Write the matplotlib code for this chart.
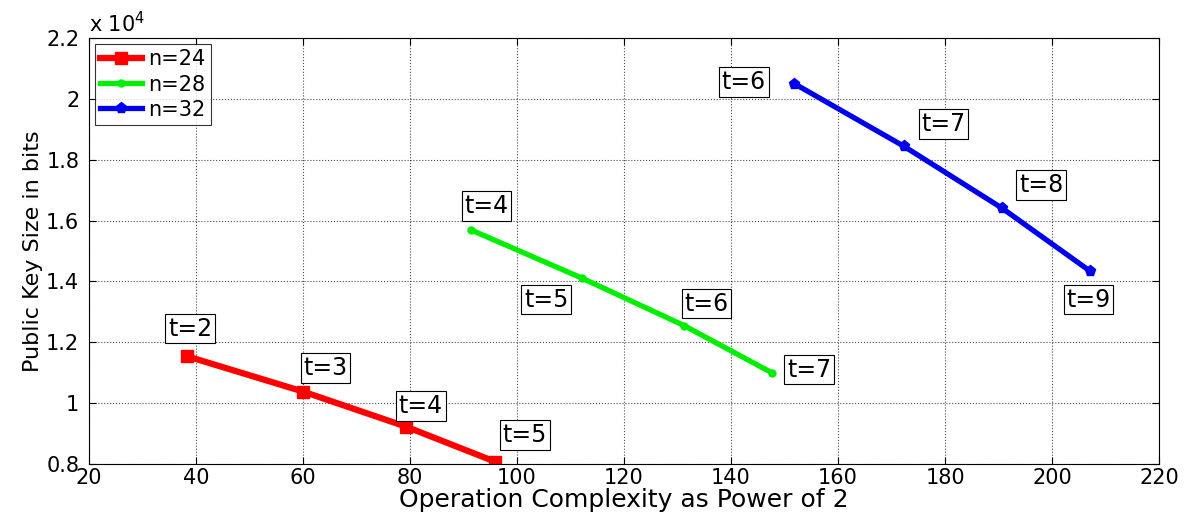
import matplotlib
matplotlib.use("Agg")
import matplotlib.pyplot as plt
from matplotlib.ticker import FuncFormatter, MultipleLocator

plt.rcParams['font.family'] = ['DejaVu Sans']

# Data (public key size in bits)
x_n24 = [38.4, 60.0, 79.2, 95.9]
y_n24 = [11535, 10380, 9230, 8076]
t_n24 = ["t=2", "t=3", "t=4", "t=5"]

x_n28 = [91.4, 112.1, 131.2, 147.6]
y_n28 = [15690, 14110, 12550, 11000]
t_n28 = ["t=4", "t=5", "t=6", "t=7"]

x_n32 = [151.8, 172.3, 190.7, 207.0]
y_n32 = [20500, 18440, 16400, 14350]
t_n32 = ["t=6", "t=7", "t=8", "t=9"]

# label anchor positions (data coordinates)
lx_n24 = [38.9, 64.2, 82.0, 101.4]
ly_n24 = [12450, 11160, 9910, 8960]
lx_n28 = [94.3, 105.5, 135.4, 154.6]
ly_n28 = [16470, 13400, 13270, 11100]
lx_n32 = [142.4, 179.7, 198.0, 206.8]
ly_n32 = [20550, 19170, 17160, 13400]

fig = plt.figure(figsize=(11.9, 5.19), dpi=100)
ax = fig.add_axes([0.0748, 0.106, 0.8992, 0.821])

ax.plot(x_n24, y_n24, color='#ff0000', lw=4.5, marker='s', ms=8, label='n=24')
ax.plot(x_n28, y_n28, color='#00ee00', lw=3.8, marker='o', ms=5, label='n=28')
ax.plot(x_n32, y_n32, color='#0000ee', lw=3.8, marker='p', ms=8, label='n=32')

box = dict(boxstyle='square,pad=0.12', fc='white', ec='black', lw=0.8)
for xs, ys, ts in [(lx_n24, ly_n24, t_n24), (lx_n28, ly_n28, t_n28), (lx_n32, ly_n32, t_n32)]:
    for xx, yy, tt in zip(xs, ys, ts):
        ax.text(xx, yy, tt, fontsize=17, ha='center', va='center', bbox=box)

ax.set_xlim(20, 220)
ax.set_ylim(8000, 22000)
ax.xaxis.set_major_locator(MultipleLocator(20))
ax.yaxis.set_major_locator(MultipleLocator(2000))
ax.yaxis.set_major_formatter(FuncFormatter(lambda v, p: '%g' % round(v / 1e4, 4)))
ax.tick_params(direction='in', top=True, right=True, labelsize=15, length=5)
ax.tick_params(axis='y', pad=7)
ax.tick_params(axis='x', pad=3)
ax.grid(True, linestyle=':', color='black', lw=0.8, alpha=0.7)
ax.text(0.0, 1.005, r'x 10$^{4}$', transform=ax.transAxes, fontsize=15, ha='left', va='bottom')

ax.set_xlabel('Operation Complexity as Power of 2', fontsize=18, labelpad=0)
ax.set_ylabel('Public Key Size in bits', fontsize=16, labelpad=2)

leg = ax.legend(loc='upper left', fontsize=15, frameon=True, fancybox=False,
                edgecolor='black', borderaxespad=0.3, handlelength=2.0,
                borderpad=0.25, labelspacing=0.25, handletextpad=0.3)
leg.get_frame().set_linewidth(0.8)

fig.savefig('out.png', dpi=100)
